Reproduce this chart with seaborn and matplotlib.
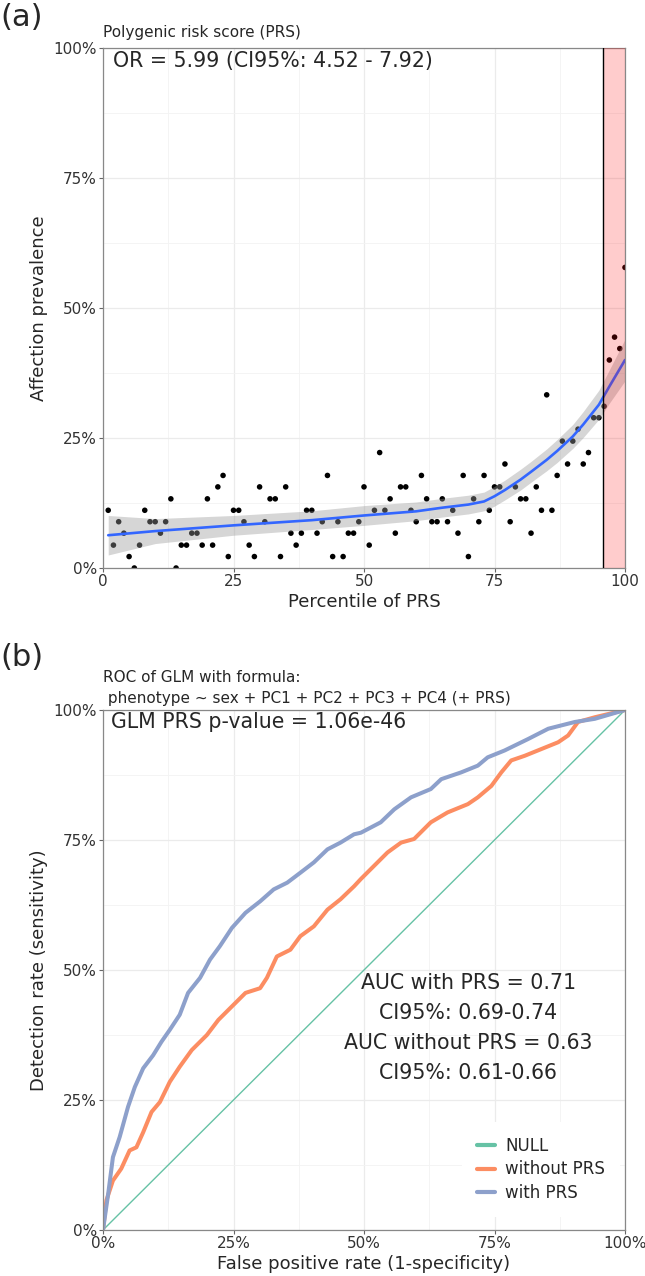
import numpy as np
import pandas as pd
import matplotlib
matplotlib.use('Agg')
import matplotlib.pyplot as plt
import seaborn as sns
from matplotlib.lines import Line2D

# Panel (a): prevalence per PRS percentile (%)
percentile = list(range(1, 101))
prevalence = [11.1, 4.4, 8.9, 6.7, 2.2, 0.0, 4.4, 11.1, 8.9, 8.9,
              6.7, 8.9, 13.3, 0.0, 4.4, 4.4, 6.7, 6.7, 4.4, 13.3,
              4.4, 15.6, 17.8, 2.2, 11.1, 11.1, 8.9, 4.4, 2.2, 15.6,
              8.9, 13.3, 13.3, 2.2, 15.6, 6.7, 4.4, 6.7, 11.1, 11.1,
              6.7, 8.9, 17.8, 2.2, 8.9, 2.2, 6.7, 6.7, 8.9, 15.6,
              4.4, 11.1, 22.2, 11.1, 13.3, 6.7, 15.6, 15.6, 11.1, 8.9,
              17.8, 13.3, 8.9, 8.9, 13.3, 8.9, 11.1, 6.7, 17.8, 2.2,
              13.3, 8.9, 17.8, 11.1, 15.6, 15.6, 20.0, 8.9, 15.6, 13.3,
              13.3, 6.7, 15.6, 11.1, 33.3, 11.1, 17.8, 24.4, 20.0, 24.4,
              26.7, 20.0, 22.2, 28.9, 28.9, 31.1, 40.0, 44.4, 42.2, 57.8]

# smooth fit (value and half-width of the grey band)
smooth_x = [1, 10, 25, 40, 50, 60, 65, 70, 73, 75, 77, 80, 82, 85, 87, 90, 92, 95, 97, 100]
smooth_y = [6.3, 7.1, 8.2, 9.2, 10.1, 10.9, 11.6, 12.2, 12.8, 13.8, 15.0, 17.0, 18.5,
            20.8, 22.5, 25.3, 27.6, 31.4, 34.9, 40.0]
smooth_se = [3.8, 2.4, 1.9, 1.8, 1.9, 1.8, 1.8, 1.8, 1.8, 1.9, 1.9, 2.0, 2.0,
             2.1, 2.2, 2.3, 2.5, 2.8, 3.2, 4.0]
top_cut = 95.7

# Panel (b): ROC curves (%)
null_fpr = [0, 100]
null_tpr = [0, 100]
without_fpr = [0, 0.65, 1.9, 3.5, 5.1, 6.4, 7.7, 9.3, 10.9, 12.8, 14.7, 17.0, 19.9, 22.1,
               25.0, 27.3, 30.1, 31.4, 33.3, 35.9, 37.8, 40.4, 43.0, 45.5, 48.1, 49.4,
               51.9, 54.5, 57.1, 59.6, 62.8, 66.0, 69.9, 71.8, 74.4, 76.3, 78.2, 80.8,
               84.0, 87.2, 89.1, 91.0, 94.2, 100]
without_tpr = [0, 5.7, 9.5, 11.8, 15.3, 15.9, 18.8, 22.7, 24.6, 28.5, 31.4, 34.6, 37.5, 40.4,
               43.3, 45.6, 46.5, 48.5, 52.6, 53.9, 56.5, 58.4, 61.6, 63.6, 66.1, 67.5,
               70.0, 72.6, 74.5, 75.2, 78.4, 80.3, 81.9, 83.2, 85.4, 88.0, 90.3, 91.2,
               92.5, 93.8, 95.1, 97.7, 98.6, 100]
with_fpr = [0, 1.0, 1.9, 3.2, 4.8, 6.1, 7.7, 9.6, 11.2, 12.8, 14.7, 16.3, 18.6, 20.5,
            22.4, 24.7, 27.3, 30.1, 32.7, 35.3, 37.8, 40.4, 43.0, 45.5, 48.1, 49.4,
            53.2, 55.8, 59.0, 62.8, 64.8, 68.6, 71.8, 73.7, 76.9, 81.4, 85.3, 90.4,
            94.2, 100]
with_tpr = [0, 7.0, 14.0, 17.9, 23.7, 27.5, 31.1, 33.6, 36.2, 38.5, 41.4, 45.6, 48.5, 52.0,
            54.6, 58.1, 61.0, 63.2, 65.5, 66.8, 68.7, 70.7, 73.2, 74.5, 76.1, 76.4,
            78.4, 80.9, 83.2, 84.8, 86.7, 88.0, 89.3, 90.9, 92.2, 94.4, 96.4, 97.7,
            98.3, 100]

models = ['NULL', 'without PRS', 'with PRS']
colors = ['#66C2A5', '#FC8D62', '#8DA0CB']
ticks = [0, 25, 50, 75, 100]
minor_ticks = [12.5, 37.5, 62.5, 87.5]
pct_labels = ['0%', '25%', '50%', '75%', '100%']
num_labels = ['0', '25', '50', '75', '100']

prs_df = pd.DataFrame({'percentile': percentile, 'prevalence': prevalence})
roc_df = pd.concat([
    pd.DataFrame({'fpr': null_fpr, 'tpr': null_tpr, 'model': 'NULL'}),
    pd.DataFrame({'fpr': without_fpr, 'tpr': without_tpr, 'model': 'without PRS'}),
    pd.DataFrame({'fpr': with_fpr, 'tpr': with_tpr, 'model': 'with PRS'}),
])

sns.set_theme(style='whitegrid')
plt.rcParams['font.family'] = ['DejaVu Sans']

W, H = 645, 1276
fig = plt.figure(figsize=(W / 100, H / 100), dpi=100)


def box(l, t, r, b):
    return [l / W, 1 - b / H, (r - l) / W, (b - t) / H]


def style(ax, xlabels, ylabels):
    ax.set_xlim(0, 100)
    ax.set_ylim(0, 100)
    ax.set_axisbelow(True)
    ax.set_xticks(ticks, xlabels)
    ax.set_yticks(ticks, ylabels)
    ax.set_xticks(minor_ticks, minor=True)
    ax.set_yticks(minor_ticks, minor=True)
    ax.grid(which='major', color='#ebebeb', lw=0.9)
    ax.grid(which='minor', color='#f3f3f3', lw=0.6)
    ax.tick_params(which='major', length=3, width=0.8, color='#666666', labelsize=11,
                   labelcolor='#333333', pad=1.5, bottom=True, left=True)
    ax.tick_params(which='minor', length=0)
    for s in ax.spines.values():
        s.set_visible(True)
        s.set_color('#888888')
        s.set_linewidth(0.9)


# ---- panel (a)
ax1 = fig.add_axes(box(103, 48, 625, 568))
sns.scatterplot(data=prs_df, x='percentile', y='prevalence', color='black', s=16,
                edgecolor='none', ax=ax1, zorder=2)
lo = np.array(smooth_y) - np.array(smooth_se)
hi = np.array(smooth_y) + np.array(smooth_se)
ax1.fill_between(smooth_x, lo, hi, color='#999999', alpha=0.4, lw=0, zorder=3)
sns.lineplot(x=smooth_x, y=smooth_y, color='#3366FF', lw=1.9, ax=ax1, zorder=4)
ax1.axvspan(top_cut, 100, color='red', alpha=0.2, lw=0, zorder=5)
ax1.axvline(top_cut, color='black', lw=1, zorder=6)
style(ax1, num_labels, pct_labels)
ax1.set_xlabel('Percentile of PRS', fontsize=13, labelpad=3)
ax1.set_ylabel('Affection prevalence', fontsize=13, labelpad=4)
ax1.text(0.019, 0.964, 'OR = 5.99 (CI95%: 4.52 - 7.92)', transform=ax1.transAxes,
         fontsize=14.8, va='baseline', ha='left', zorder=7)

fig.text(0, 1 - 3 / H, '(a)', fontsize=22, va='top', ha='left')
fig.text(103 / W, 1 - 37 / H, 'Polygenic risk score (PRS)', fontsize=11, va='baseline', ha='left')

# ---- panel (b)
ax2 = fig.add_axes(box(103, 710, 625, 1230))
sns.lineplot(data=roc_df, x='fpr', y='tpr', hue='model', hue_order=models, palette=colors,
             size='model', sizes={'NULL': 1.0, 'without PRS': 2.9, 'with PRS': 2.9},
             estimator=None, sort=False, legend=False, ax=ax2)
style(ax2, pct_labels, pct_labels)
ax2.set_xlabel('False positive rate (1-specificity)', fontsize=13, labelpad=3)
ax2.set_ylabel('Detection rate (sensitivity)', fontsize=13, labelpad=4)
ax2.text(0.016, 0.965, 'GLM PRS p-value = 1.06e-46', transform=ax2.transAxes,
         fontsize=14.8, va='baseline', ha='left')
ax2.text(70, 38.9, 'AUC with PRS = 0.71\nCI95%: 0.69-0.74\nAUC without PRS = 0.63\nCI95%: 0.61-0.66',
         fontsize=14.8, ha='center', va='center', multialignment='center', linespacing=1.62)

handles = [Line2D([0], [0], color=c, lw=3) for c in colors]
ax2.legend(handles, models, loc='upper left', bbox_to_anchor=(0.688, 0.2085),
           frameon=True, fancybox=False, facecolor='white', edgecolor='none', framealpha=1,
           fontsize=12, handlelength=1.05, handletextpad=0.65, labelspacing=0.35,
           borderpad=0.9, borderaxespad=0)

fig.text(0, 1 - 643 / H, '(b)', fontsize=22, va='top', ha='left')
fig.text(103 / W, 1 - 681.5 / H, 'ROC of GLM with formula:', fontsize=11, va='baseline', ha='left')
fig.text(103 / W, 1 - 702.5 / H, ' phenotype ~ sex + PC1 + PC2 + PC3 + PC4 (+ PRS)', fontsize=11,
         va='baseline', ha='left')

fig.savefig('out.png', dpi=100)
